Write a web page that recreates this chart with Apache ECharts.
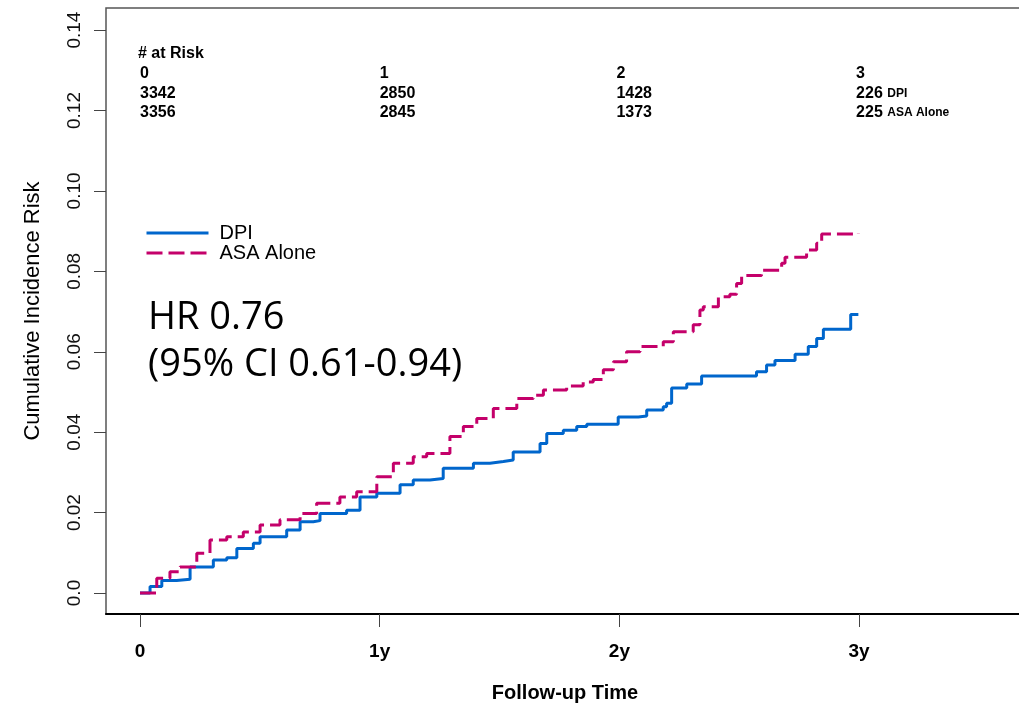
<!DOCTYPE html>
<html>
<head>
<meta charset="utf-8">
<script src="https://cdn.jsdelivr.net/npm/echarts@6/dist/echarts.min.js"></script>
<style>
  html, body { margin: 0; padding: 0; background: #fff; }
  #main { width: 1019px; height: 709px; }
</style>
</head>
<body>
<div id="main"></div>
<script>
// cumulative incidence curves (years, risk)
var dpiTime = [0, 0.042, 0.091, 0.153, 0.209, 0.306, 0.362, 0.404, 0.473, 0.501, 0.612, 0.668, 0.723, 0.751,
  0.862, 0.918, 0.988, 1.085, 1.140, 1.210, 1.265, 1.391, 1.460, 1.516, 1.557, 1.669, 1.697, 1.766,
  1.822, 1.864, 1.995, 2.079, 2.114, 2.183, 2.197, 2.218, 2.281, 2.343, 2.572, 2.614, 2.649, 2.733,
  2.788, 2.823, 2.851, 2.965, 2.997];
var dpiRisk = [0, 0.0016, 0.0031, 0.0034, 0.0065, 0.0082, 0.0088, 0.0111, 0.0124, 0.0140, 0.0157, 0.0177, 0.0180, 0.0198,
  0.0206, 0.0239, 0.0248, 0.0269, 0.0281, 0.0285, 0.0310, 0.0323, 0.0327, 0.0331, 0.0351, 0.0372, 0.0397, 0.0405,
  0.0414, 0.0420, 0.0438, 0.0440, 0.0455, 0.0463, 0.0472, 0.0510, 0.0520, 0.0540, 0.0550, 0.0567, 0.0578, 0.0594,
  0.0613, 0.0633, 0.0656, 0.0693, 0.0693];

var asaTime = [0, 0.070, 0.125, 0.167, 0.237, 0.292, 0.362, 0.431, 0.501, 0.584, 0.668, 0.737, 0.834, 0.904,
  0.988, 1.057, 1.140, 1.196, 1.293, 1.349, 1.405, 1.474, 1.572, 1.641, 1.683, 1.780, 1.849, 1.891,
  1.933, 1.975, 2.030, 2.086, 2.183, 2.225, 2.308, 2.336, 2.350, 2.413, 2.461, 2.489, 2.510, 2.593,
  2.677, 2.691, 2.781, 2.823, 2.844, 2.997];
var asaRisk = [0, 0.0037, 0.0053, 0.0065, 0.0099, 0.0132, 0.0140, 0.0152, 0.0169, 0.0182, 0.0198, 0.0223, 0.0239, 0.0252,
  0.0289, 0.0323, 0.0339, 0.0347, 0.0389, 0.0414, 0.0434, 0.0459, 0.0484, 0.0492, 0.0505, 0.0515, 0.0525, 0.0531,
  0.0555, 0.0575, 0.0600, 0.0613, 0.0625, 0.0650, 0.0667, 0.0704, 0.0712, 0.0737, 0.0743, 0.0770, 0.0790, 0.0803,
  0.0820, 0.0835, 0.0853, 0.0870, 0.0893, 0.0895];

var seriesNames = ['DPI', 'ASA Alone'];

// number at risk table
var riskTimes = [0, 1, 2, 3];
var riskDPI = [3342, 2850, 1428, 226];
var riskASA = [3356, 2845, 1373, 225];

var xTicks = [0, 1, 2, 3];
var xTickLabels = ['0', '1y', '2y', '3y'];
var yTicks = [0, 0.02, 0.04, 0.06, 0.08, 0.10, 0.12, 0.14];
var yTickLabels = ['0.0', '0.02', '0.04', '0.06', '0.08', '0.10', '0.12', '0.14'];

var hrLines = ['HR 0.76', '(95% CI 0.61-0.94)'];

function pairs(xs, ys) {
  var out = [];
  for (var i = 0; i < xs.length; i++) out.push([xs[i], ys[i]]);
  return out;
}

var chart = echarts.init(document.getElementById('main'), null, { renderer: 'canvas' });

var font = 'Liberation Sans, Arial, sans-serif';

var option = {
  animation: false,
  backgroundColor: '#fff',
  grid: {
    left: 106, top: 8, width: 918, bottom: 95,
    outerBoundsMode: 'none',
    containLabel: false,
    show: true, borderColor: '#555', borderWidth: 1.5
  },
  legend: {
    orient: 'vertical',
    left: 140, top: 218,
    itemWidth: 62, itemHeight: 14, itemGap: 0,
    data: seriesNames,
    itemStyle: { opacity: 0 },
    lineStyle: { width: 3 },
    textStyle: { fontFamily: font, fontSize: 20, color: '#000', padding: [0, 0, 0, 6] }
  },
  xAxis: {
    type: 'value',
    min: -0.1418, max: 3.688,
    name: 'Follow-up Time',
    nameLocation: 'middle',
    nameGap: 69,
    nameTextStyle: { fontFamily: font, fontSize: 20, fontWeight: 'bold', color: '#000' },
    axisLine: { show: true, onZero: false, lineStyle: { color: '#000', width: 2 } },
    axisTick: { show: true, length: 13, customValues: xTicks, lineStyle: { color: '#444', width: 1 } },
    axisLabel: {
      customValues: xTicks,
      margin: 28,
      fontFamily: font, fontSize: 19, fontWeight: 'bold', color: '#000',
      formatter: function (v) { return xTickLabels[xTicks.indexOf(v)]; }
    },
    splitLine: { show: false }
  },
  yAxis: {
    type: 'value',
    min: -0.00522, max: 0.1455,
    name: 'Cumulative Incidence Risk',
    nameLocation: 'middle',
    nameGap: 62,
    nameRotate: 90,
    nameTextStyle: { fontFamily: font, fontSize: 22, color: '#000' },
    axisLine: { show: false, onZero: false },
    axisTick: { show: true, length: 12, customValues: yTicks, lineStyle: { color: '#444', width: 1 } },
    axisLabel: {
      customValues: yTicks,
      rotate: 90,
      margin: 22,
      fontFamily: font, fontSize: 19, color: '#111',
      formatter: function (v) {
        for (var i = 0; i < yTicks.length; i++) {
          if (Math.abs(yTicks[i] - v) < 1e-9) return yTickLabels[i];
        }
        return '';
      }
    },
    splitLine: { show: false }
  },
  series: [
    {
      name: seriesNames[0],
      type: 'line',
      step: 'end',
      symbol: 'none',
      data: pairs(dpiTime, dpiRisk),
      lineStyle: { color: '#0066CC', width: 3 },
      itemStyle: { color: '#0066CC' }
    },
    {
      name: seriesNames[1],
      type: 'line',
      step: 'end',
      symbol: 'none',
      data: pairs(asaTime, asaRisk),
      lineStyle: { color: '#C4006A', width: 3, type: [16, 6] },
      itemStyle: { color: '#C4006A' }
    }
  ]
};

chart.setOption(option);

// at-risk table and HR annotation, placed with the x scale
var colShift = [0, 0, -3, -3];
var rowY = [74, 94, 113];
var tableStyle = { fontFamily: font, fontSize: 16, fontWeight: 'bold', fill: '#000' };
var smallRich = {
  n: { fontFamily: font, fontSize: 16, fontWeight: 'bold' },
  s: { fontFamily: font, fontSize: 12, fontWeight: 'bold' }
};
var graphics = [];
graphics.push({
  type: 'text', x: 138, y: 54,
  style: Object.assign({ text: '# at Risk', verticalAlign: 'middle' }, tableStyle)
});
for (var i = 0; i < riskTimes.length; i++) {
  var px = chart.convertToPixel({ xAxisIndex: 0 }, riskTimes[i]) + colShift[i];
  var last = i === riskTimes.length - 1;
  graphics.push({
    type: 'text', x: px, y: rowY[0],
    style: Object.assign({ text: String(riskTimes[i]), verticalAlign: 'middle' }, tableStyle)
  });
  graphics.push({
    type: 'text', x: px, y: rowY[1],
    style: Object.assign({
      text: last ? '{n|' + riskDPI[i] + '} {s|' + seriesNames[0] + '}' : String(riskDPI[i]),
      verticalAlign: 'middle', rich: smallRich
    }, tableStyle)
  });
  graphics.push({
    type: 'text', x: px, y: rowY[2],
    style: Object.assign({
      text: last ? '{n|' + riskASA[i] + '} {s|' + seriesNames[1] + '}' : String(riskASA[i]),
      verticalAlign: 'middle', rich: smallRich
    }, tableStyle)
  });
}
graphics.push({
  type: 'text', x: 148, y: 318,
  style: { text: hrLines[0], fontFamily: 'Open Sans, Noto Sans, sans-serif', fontSize: 38, fill: '#000', verticalAlign: 'middle' }
});
graphics.push({
  type: 'text', x: 148, y: 365,
  style: { text: hrLines[1], fontFamily: 'Open Sans, Noto Sans, sans-serif', fontSize: 38, fill: '#000', verticalAlign: 'middle' }
});

chart.setOption({ graphic: graphics });

window.addEventListener('resize', chart.resize);
</script>
</body>
</html>
